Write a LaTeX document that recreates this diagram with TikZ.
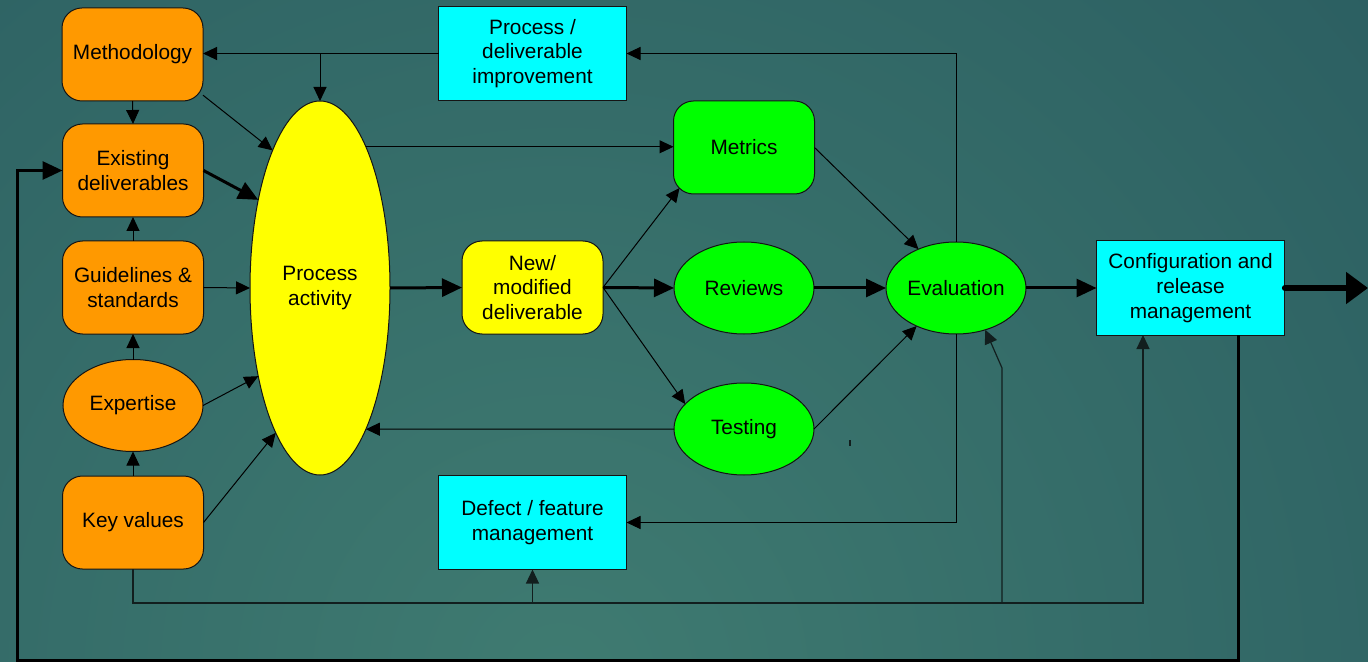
\documentclass[tikz,border=0pt]{standalone}
\usepackage{fontspec}
\setmainfont{Liberation Sans}
\usetikzlibrary{arrows.meta,shapes.geometric,calc}
\definecolor{bgdark}{HTML}{22515A}
\definecolor{bglight}{HTML}{3F7B71}
\definecolor{orng}{HTML}{FF9900}
\definecolor{yel}{HTML}{FFFF00}
\definecolor{grn}{HTML}{00FF00}
\definecolor{cyn}{HTML}{00FFFF}
\definecolor{edge}{HTML}{141414}
\definecolor{busline}{HTML}{121E1E}
\begin{document}
\begin{tikzpicture}[x=0.5pt,y=-0.5pt,
  txt/.style={font=\fontsize{10.4}{12.4}\selectfont, align=center, text=black, inner sep=0pt, outer sep=0pt},
  rbox/.style={txt, rectangle, rounded corners=10pt, draw=edge, line width=0.5pt, minimum width=70.5pt, minimum height=46.5pt},
  ell/.style={txt, ellipse, draw=edge, line width=0.5pt, minimum width=70pt, minimum height=46pt},
  cbox/.style={txt, rectangle, draw=edge, line width=0.5pt, fill=cyn, minimum width=94pt, minimum height=47pt},
  arr/.style={draw=black, line width=0.5pt, -{Triangle[length=7pt,width=6.5pt]}},
  tarr/.style={draw=black, line width=1.5pt, -{Triangle[length=10pt,width=9pt]}},
  barr/.style={draw=black, line width=2.6pt, line cap=round, -{Triangle[length=11pt,width=15.5pt]}},
  bus/.style={draw=busline, line width=0.6pt, line join=miter, -{Triangle[length=7pt,width=6.5pt]}}
]
\clip (0,0) rectangle (1368,662);
\fill[bgdark] (0,0) rectangle (1368,662);
\shade[inner color=bglight, outer color=bgdark] (560,680) circle (1600);

% nodes
\node[rbox, fill=orng] (meth) at (132.5,54.5) {Methodology};
\node[rbox, fill=orng] (exist) at (133,170.5) {Existing\\deliverables};
\node[rbox, fill=orng] (guide) at (133,287.5) {Guidelines \&\\standards};
\node[ell, fill=orng] (expert) at (133,405.5) {Expertise};
\node[rbox, fill=orng] (key) at (133,522.5) {Key values};
\node[ell, fill=yel, minimum width=70pt, minimum height=187pt] (pa) at (320,288) {Process\\activity};
\node[cbox] (pdi) at (532.5,53.5) {Process /\\deliverable\\improvement};
\node[cbox] (defect) at (532.5,522.5) {Defect / feature\\management};
\node[rbox, fill=yel] (new) at (532.5,287.5) {New/\\modified\\deliverable};
\node[rbox, fill=grn] (metrics) at (744,147.5) {Metrics};
\node[ell, fill=grn] (reviews) at (744,288) {Reviews};
\node[ell, fill=grn] (testing) at (744,429) {Testing};
\node[ell, fill=grn] (eval) at (956,288) {Evaluation};
\node[cbox] (config) at (1190.5,288) {Configuration and\\release\\management};

% coordinates
\coordinate (out) at (1368,288);
\coordinate (lc) at (17,660);
\coordinate (bus) at (133,603);
\coordinate (kink) at (1002,368);

% connectors
\draw[arr] (pdi.west) -- (pdi.west -| meth.east);
\draw[arr] (pdi.west -| pa.north) -- (pa.north);
\draw[arr] (meth.south) -- (exist.north);
\draw[arr] (meth.-30) -- (pa.109);
\draw[tarr] (exist.east) -- (pa.125);
\draw[arr] (guide.north) -- (exist.south);
\draw[arr] (guide.east) -- (pa.west);
\draw[arr] (expert.north) -- (guide.south);
\draw[arr] (expert.east) -- (pa.235);
\draw[arr] (key.north) -- (expert.south);
\draw[arr] (key.east) -- (pa.253);
\draw[arr] (pa.72) -- (pa.72 -| metrics.west);
\draw[tarr] (pa.east) -- (new.west);
\draw[arr] (new.east) -- ($(metrics.south west)+(6,-6)$);
\draw[tarr] (new.east) -- (reviews.west);
\draw[arr] (new.east) -- (testing.157);
\draw[arr] (testing.west) -- (pa.-72);
\draw[arr] (metrics.east) -- (eval.134);
\draw[tarr] (reviews.east) -- (eval.west);
\draw[arr] (testing.east) -- (eval.224);
\draw[arr] (eval.north) |- (pdi.east);
\draw[arr] (eval.south) |- (defect.east);
\draw[tarr] (eval.east) -- (config.west);
\draw[barr] (config.east) -- (out);
\draw[tarr] ($(config.south)+(47.5,0)$) |- (lc) |- (exist.west);
\draw[bus] (key.south) -- (bus) -| ($(config.south)+(-47.5,0)$);
\draw[bus] (defect.south |- bus) -- (defect.south);
\draw[bus] (kink |- bus) -- (kink) -- (eval.-55);
\draw[line width=0.8pt, busline] (850,440) -- (850,446);
\end{tikzpicture}
\end{document}
